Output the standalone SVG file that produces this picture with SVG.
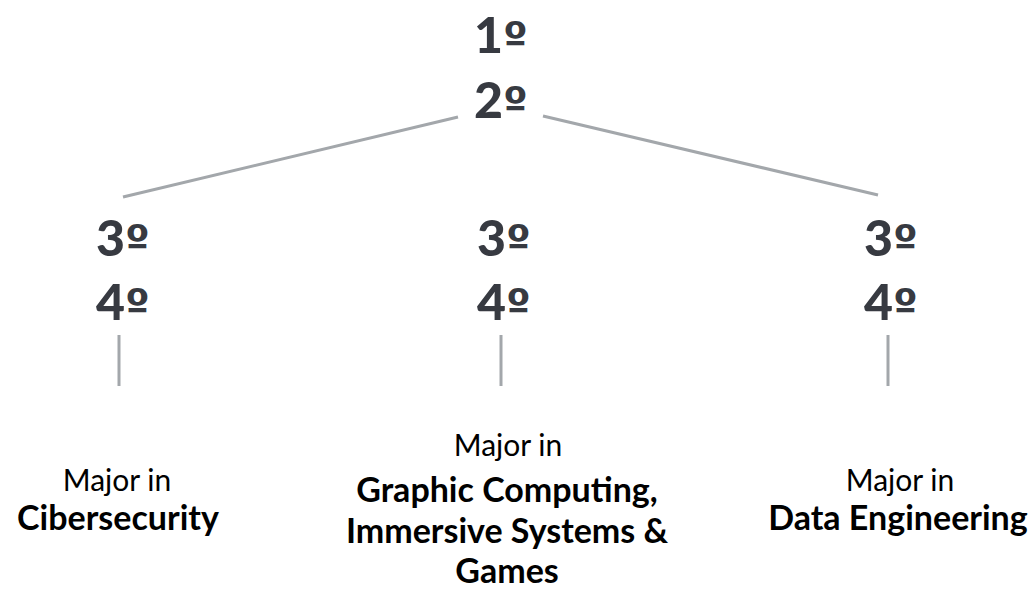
<svg xmlns="http://www.w3.org/2000/svg" width="1036" height="591" viewBox="0 0 1036 591">
<style>
.yr{font-family:Lato,"Liberation Sans",sans-serif;font-weight:900;font-size:50px;fill:#373a41}
.yr tspan{font-family:"DejaVu Sans",sans-serif;font-weight:700;font-size:44px}
.conn line{stroke:#a3a7ab;stroke-width:3;stroke-linecap:butt}
.m{font-family:Lato,"Liberation Sans",sans-serif;font-size:30px;fill:#000;text-anchor:middle}
.b{font-family:Lato,"Liberation Sans",sans-serif;font-size:34px;font-weight:700;fill:#000;text-anchor:middle}
</style>
<rect width="1036" height="591" fill="#fff"/>
<g id="connectors" class="conn">
<line x1="458" y1="117" x2="123" y2="197"/>
<line x1="543" y1="116" x2="878" y2="195"/>
<line x1="119" y1="335" x2="119" y2="386"/>
<line x1="501" y1="335" x2="501" y2="386"/>
<line x1="888" y1="335" x2="888" y2="386"/>
</g>
<g id="node-top">
<text class="yr" x="474" y="53">1<tspan>º</tspan></text>
<text class="yr" x="474" y="118">2<tspan>º</tspan></text>
</g>
<g id="node-left">
<text class="yr" x="96" y="256">3<tspan>º</tspan></text>
<text class="yr" x="96" y="320">4<tspan>º</tspan></text>
</g>
<g id="node-mid">
<text class="yr" x="477" y="256">3<tspan>º</tspan></text>
<text class="yr" x="477" y="320">4<tspan>º</tspan></text>
</g>
<g id="node-right">
<text class="yr" x="864" y="256">3<tspan>º</tspan></text>
<text class="yr" x="864" y="320">4<tspan>º</tspan></text>
</g>
<g id="major-cyber">
<text class="m" x="117" y="491">Major in</text>
<text class="b" x="118" y="530">Cibersecurity</text>
</g>
<g id="major-graphic">
<text class="m" x="508" y="456">Major in</text>
<text class="b" x="507" y="502">Graphic Computing,</text>
<text class="b" x="507" y="543">Immersive Systems &amp;</text>
<text class="b" x="507" y="583">Games</text>
</g>
<g id="major-data">
<text class="m" x="900" y="491">Major in</text>
<text class="b" x="898" y="530">Data Engineering</text>
</g>
</svg>
